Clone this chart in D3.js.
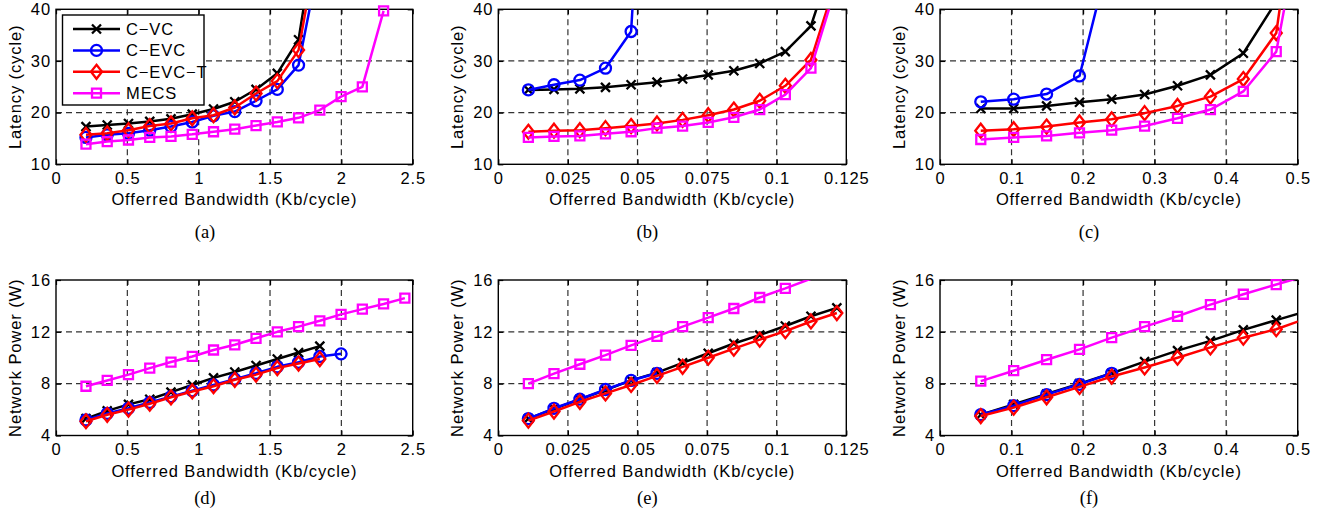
<!DOCTYPE html>
<html>
<head>
<meta charset="utf-8">
<script src="https://cdn.jsdelivr.net/npm/d3@7"></script>
<style>
	body { margin: 0; background: #fff; }
	#chart { width: 1327px; height: 518px; }
	text { font-family: "Liberation Sans", Arial, Helvetica, sans-serif; }
</style>
</head>
<body>
<div id="chart"></div>
<script>

//**********************************
// data
//**********************************
var seriesNames   = ["C\u2212VC", "C\u2212EVC", "C\u2212EVC\u2212T", "MECS"];
var seriesColors  = ["#000000", "#0000ff", "#ff0000", "#ff00ff"];
var seriesMarkers = ["x", "circle", "diamond", "square"];

// offered bandwidth (Kb/cycle), one list per column of panels
var bwA = [0.21, 0.359, 0.508, 0.657, 0.806, 0.955, 1.104, 1.253, 1.402, 1.551, 1.70, 1.849, 1.998, 2.147, 2.296, 2.445];
var bwB = [0.0108, 0.0200, 0.0293, 0.0385, 0.0477, 0.0570, 0.0662, 0.0754, 0.0846, 0.0939, 0.1031, 0.1123, 0.1216];
var bwC = [0.057, 0.103, 0.149, 0.195, 0.240, 0.286, 0.332, 0.378, 0.424, 0.470, 0.516];

// latency (cycle)
var latA_cvc   = [17.3, 17.6, 17.9, 18.3, 18.8, 19.7, 20.7, 22.1, 24.5, 27.6, 34.1, 60];
var latA_cevc  = [15.2, 15.7, 16.0, 16.6, 17.3, 18.2, 19.4, 20.2, 22.3, 24.5, 29.2, 50];
var latA_cevct = [15.7, 16.0, 16.6, 17.4, 17.9, 18.9, 19.5, 21.0, 23.7, 26.1, 32.1, 55];
var latA_mecs  = [13.9, 14.4, 14.7, 15.2, 15.4, 15.8, 16.3, 16.8, 17.5, 18.2, 19.0, 20.5, 23.1, 25.0, 39.7];

var latB_cvc   = [24.4, 24.5, 24.6, 24.9, 25.4, 25.9, 26.5, 27.3, 28.1, 29.5, 31.8, 36.8, 52];
var latB_cevc  = [24.4, 25.4, 26.3, 28.6, 35.7, 120];
var latB_cevct = [16.3, 16.5, 16.6, 17.0, 17.4, 17.9, 18.6, 19.5, 20.6, 22.3, 25.2, 30.2, 46];
var latB_mecs  = [15.2, 15.4, 15.5, 15.9, 16.3, 17.0, 17.4, 18.1, 19.1, 20.6, 23.5, 28.6, 45];

var latC_cvc   = [20.8, 20.8, 21.3, 22.0, 22.6, 23.5, 25.2, 27.3, 31.5, 41.5];
var latC_cevc  = [22.1, 22.6, 23.6, 27.1, 52];
var latC_cevct = [16.5, 16.8, 17.3, 18.1, 18.7, 19.9, 21.3, 23.1, 26.5, 35.4, 80];
var latC_mecs  = [14.8, 15.2, 15.5, 16.1, 16.6, 17.4, 18.9, 20.6, 24.1, 31.8, 66];

// network power (W)
var powD_cvc   = [5.3, 5.9, 6.4, 6.8, 7.35, 7.9, 8.45, 8.9, 9.4, 9.9, 10.4, 10.9];
var powD_cevc  = [5.2, 5.7, 6.1, 6.55, 7.0, 7.45, 7.9, 8.35, 8.8, 9.3, 9.65, 10.1, 10.3];
var powD_cevct = [5.1, 5.6, 6.0, 6.45, 6.95, 7.4, 7.8, 8.3, 8.7, 9.2, 9.55, 9.9];
var powD_mecs  = [7.8, 8.25, 8.7, 9.2, 9.67, 10.1, 10.6, 11.0, 11.5, 12.0, 12.4, 12.85, 13.35, 13.75, 14.15, 14.6];

var powE_cvc   = [5.3, 6.05, 6.8, 7.5, 8.25, 8.85, 9.6, 10.35, 11.1, 11.75, 12.45, 13.2, 13.85];
var powE_cevc  = [5.3, 6.1, 6.8, 7.55, 8.25, 8.8];
var powE_cevct = [5.15, 5.85, 6.6, 7.25, 7.9, 8.6, 9.3, 10.0, 10.7, 11.4, 12.05, 12.8, 13.45];
var powE_mecs  = [8.0, 8.77, 9.5, 10.2, 10.95, 11.65, 12.4, 13.1, 13.8, 14.65, 15.35, 16.1];

var powF_cvc   = [5.6, 6.4, 7.2, 8.0, 8.8, 9.7, 10.55, 11.3, 12.15, 12.9, 13.65];
var powF_cevc  = [5.6, 6.3, 7.15, 7.95, 8.8];
var powF_cevct = [5.5, 6.15, 6.95, 7.75, 8.55, 9.25, 10.0, 10.8, 11.55, 12.2, 13.1];
var powF_mecs  = [8.2, 9.0, 9.85, 10.65, 11.55, 12.4, 13.2, 14.1, 14.9, 15.65, 16.4];

// axis ticks
var xTicksA = [0, 0.5, 1, 1.5, 2, 2.5];
var xTicksB = [0, 0.025, 0.05, 0.075, 0.1, 0.125];
var xTicksC = [0, 0.1, 0.2, 0.3, 0.4, 0.5];
var latTicks = [10, 20, 30, 40];
var powTicks = [4, 8, 12, 16];

var xLabel = "Offerred Bandwidth (Kb/cycle)";
var latLabel = "Latency (cycle)";
var powLabel = "Network Power (W)";

//**********************************
// panel layout
//**********************************
var rows = [
	{ top : 9.3, bottom : 164.3, yTicks : latTicks, yLabel : latLabel },
	{ top : 280, bottom : 435.5, yTicks : powTicks, yLabel : powLabel }
];
var cols = [
	{ left : 56,  right : 412.7, x : bwA, ticks : xTicksA },
	{ left : 498.3, right : 846.3, x : bwB, ticks : xTicksB },
	{ left : 940, right : 1297.7, x : bwC, ticks : xTicksC }
];

var panels = [
	{ row : 0, col : 0, caption : "(a)", series : [latA_cvc, latA_cevc, latA_cevct, latA_mecs], legend : true },
	{ row : 0, col : 1, caption : "(b)", series : [latB_cvc, latB_cevc, latB_cevct, latB_mecs] },
	{ row : 0, col : 2, caption : "(c)", series : [latC_cvc, latC_cevc, latC_cevct, latC_mecs] },
	{ row : 1, col : 0, caption : "(d)", series : [powD_cvc, powD_cevc, powD_cevct, powD_mecs] },
	{ row : 1, col : 1, caption : "(e)", series : [powE_cvc, powE_cevc, powE_cevct, powE_mecs] },
	{ row : 1, col : 2, caption : "(f)", series : [powF_cvc, powF_cevc, powF_cevct, powF_mecs] }
];

var fontSize = 16.5;
var letterSpace = 0.9;

var svg = d3.select("#chart").append("svg")
	.attr("width", 1327)
	.attr("height", 518)
	.style("display", "block");

var fmt = function(d){ return String(+d.toFixed(3)); };

// hollow matlab-ish markers, drawn around 0,0
var markerPath = function(type)
{
	if(type == "x")
		return "M-4.5,-4.5L4.5,4.5M-4.5,4.5L4.5,-4.5";
	if(type == "circle")
		return "M5.5,0A5.5,5.5 0 1,1 -5.5,0A5.5,5.5 0 1,1 5.5,0Z";
	if(type == "diamond")
		return "M0,-7L5.5,0L0,7L-5.5,0Z";
	return "M-4.5,-4.5L4.5,-4.5L4.5,4.5L-4.5,4.5Z";
}

var drawPanel = function(p, idx)
{
	var r = rows[p.row];
	var c = cols[p.col];
	var yDomain = [r.yTicks[0], r.yTicks[r.yTicks.length - 1]];
	var xDomain = [c.ticks[0], c.ticks[c.ticks.length - 1]];

	var scaleX = d3.scaleLinear().domain(xDomain).range([c.left, c.right]);
	var scaleY = d3.scaleLinear().domain(yDomain).range([r.bottom, r.top]);

	var g = svg.append("g").attr("class", "panel");

	// grid
	var inner_x = c.ticks.slice(1, -1);
	var inner_y = r.yTicks.slice(1, -1);
	g.selectAll(".vgrid").data(inner_x).enter()
		.append("line")
		.attr("class", "vgrid")
		.attr("x1", function(d){ return scaleX(d); })
		.attr("x2", function(d){ return scaleX(d); })
		.attr("y1", r.top)
		.attr("y2", r.bottom)
		.style("stroke", "#333")
		.style("stroke-width", 1.2)
		.style("stroke-dasharray", "6,4");
	g.selectAll(".hgrid").data(inner_y).enter()
		.append("line")
		.attr("class", "hgrid")
		.attr("x1", c.left)
		.attr("x2", c.right)
		.attr("y1", function(d){ return scaleY(d); })
		.attr("y2", function(d){ return scaleY(d); })
		.style("stroke", "#333")
		.style("stroke-width", 1.2)
		.style("stroke-dasharray", "6,4");

	// axes (ticks inside, mirrored on top/right)
	g.append("g")
		.attr("transform", "translate(0," + r.bottom + ")")
		.call(d3.axisBottom(scaleX).tickValues(c.ticks).tickFormat(fmt).tickSizeInner(-5).tickSizeOuter(0).tickPadding(8));
	g.append("g")
		.attr("transform", "translate(" + c.left + ",0)")
		.call(d3.axisLeft(scaleY).tickValues(r.yTicks).tickFormat(fmt).tickSizeInner(-5).tickSizeOuter(0).tickPadding(5));
	g.append("g")
		.attr("transform", "translate(0," + r.top + ")")
		.call(d3.axisTop(scaleX).tickValues(c.ticks).tickFormat("").tickSizeInner(-5).tickSizeOuter(0));
	g.append("g")
		.attr("transform", "translate(" + c.right + ",0)")
		.call(d3.axisRight(scaleY).tickValues(r.yTicks).tickFormat("").tickSizeInner(-5).tickSizeOuter(0));

	g.selectAll(".domain").remove();
	g.selectAll(".tick line").style("stroke", "#000").style("stroke-width", 1.2);
	g.selectAll(".tick text")
		.style("font-family", "'Liberation Sans', Arial, sans-serif")
		.style("font-size", fontSize + "px")
		.style("letter-spacing", letterSpace + "px")
		.style("fill", "#000");

	// box
	g.append("rect")
		.attr("x", c.left)
		.attr("y", r.top)
		.attr("width", c.right - c.left)
		.attr("height", r.bottom - r.top)
		.style("fill", "none")
		.style("stroke", "#000")
		.style("stroke-width", 1.4);

	// labels
	g.append("text")
		.attr("x", (c.left + c.right) / 2)
		.attr("y", r.bottom + 41)
		.style("text-anchor", "middle")
		.style("font-size", fontSize + "px")
		.style("letter-spacing", letterSpace + "px")
		.text(xLabel);

	g.append("text")
		.attr("transform", "translate(" + (c.left - 35) + "," + ((r.top + r.bottom) / 2) + ") rotate(-90)")
		.style("text-anchor", "middle")
		.style("font-size", fontSize + "px")
		.style("letter-spacing", letterSpace + "px")
		.text(r.yLabel);

	g.append("text")
		.attr("x", c.left + 149)
		.attr("y", p.row == 0 ? 237.5 : 503.5)
		.style("text-anchor", "middle")
		.style("font-family", "'Liberation Serif', 'Times New Roman', serif")
		.style("font-size", "18.5px")
		.text(p.caption);

	// series
	var clipId = "clip_" + idx;
	svg.append("clipPath")
		.attr("id", clipId)
		.append("rect")
		.attr("x", c.left)
		.attr("y", r.top)
		.attr("width", c.right - c.left)
		.attr("height", r.bottom - r.top);

	var line = d3.line()
		.x(function(d){ return scaleX(d.x); })
		.y(function(d){ return scaleY(d.y); });

	for(var s = 0; s < p.series.length; s++)
	{
		var pts = p.series[s].map(function(v, i){ return { x : c.x[i], y : v }; });
		var sg = g.append("g").attr("class", "series");

		sg.append("path")
			.attr("d", line(pts))
			.attr("clip-path", "url(#" + clipId + ")")
			.style("fill", "none")
			.style("stroke", seriesColors[s])
			.style("stroke-width", 2.5)
			.style("stroke-linejoin", "round");

		var visible = pts.filter(function(d){
			return d.y >= yDomain[0] && d.y <= yDomain[1] && d.x >= xDomain[0] && d.x <= xDomain[1];
		});
		sg.selectAll(".marker").data(visible).enter()
			.append("path")
			.attr("class", "marker")
			.attr("transform", function(d){ return "translate(" + scaleX(d.x) + "," + scaleY(d.y) + ")"; })
			.attr("d", markerPath(seriesMarkers[s]))
			.style("fill", "none")
			.style("stroke", seriesColors[s])
			.style("stroke-width", 2.3);
	}

	if(p.legend)
		drawLegend(g, c.left, r.top);
}

var drawLegend = function(g, left, top)
{
	var box = { x : left + 6.5, y : top + 5.7, w : 141.5, h : 90 };
	var lg = g.append("g").attr("class", "legend");
	lg.append("rect")
		.attr("x", box.x)
		.attr("y", box.y)
		.attr("width", box.w)
		.attr("height", box.h)
		.style("fill", "#fff")
		.style("stroke", "#000")
		.style("stroke-width", 1.4);

	var rowsY = seriesNames.map(function(d, i){ return box.y + 14 + i * 21.4; });
	var items = lg.selectAll(".legend_item").data(seriesNames).enter()
		.append("g")
		.attr("class", "legend_item")
		.attr("transform", function(d, i){ return "translate(" + box.x + "," + rowsY[i] + ")"; });

	items.append("line")
		.attr("x1", 10.5)
		.attr("x2", 57.5)
		.style("stroke", function(d, i){ return seriesColors[i]; })
		.style("stroke-width", 2.5);
	items.append("path")
		.attr("transform", "translate(34,0)")
		.attr("d", function(d, i){ return markerPath(seriesMarkers[i]); })
		.style("fill", "none")
		.style("stroke", function(d, i){ return seriesColors[i]; })
		.style("stroke-width", 2.3);
	items.append("text")
		.attr("x", 63.5)
		.attr("y", 6)
		.style("font-size", fontSize + "px")
		.style("letter-spacing", letterSpace + "px")
		.text(function(d){ return d; });
}

panels.forEach(function(p, i){ drawPanel(p, i); });

</script>
</body>
</html>
